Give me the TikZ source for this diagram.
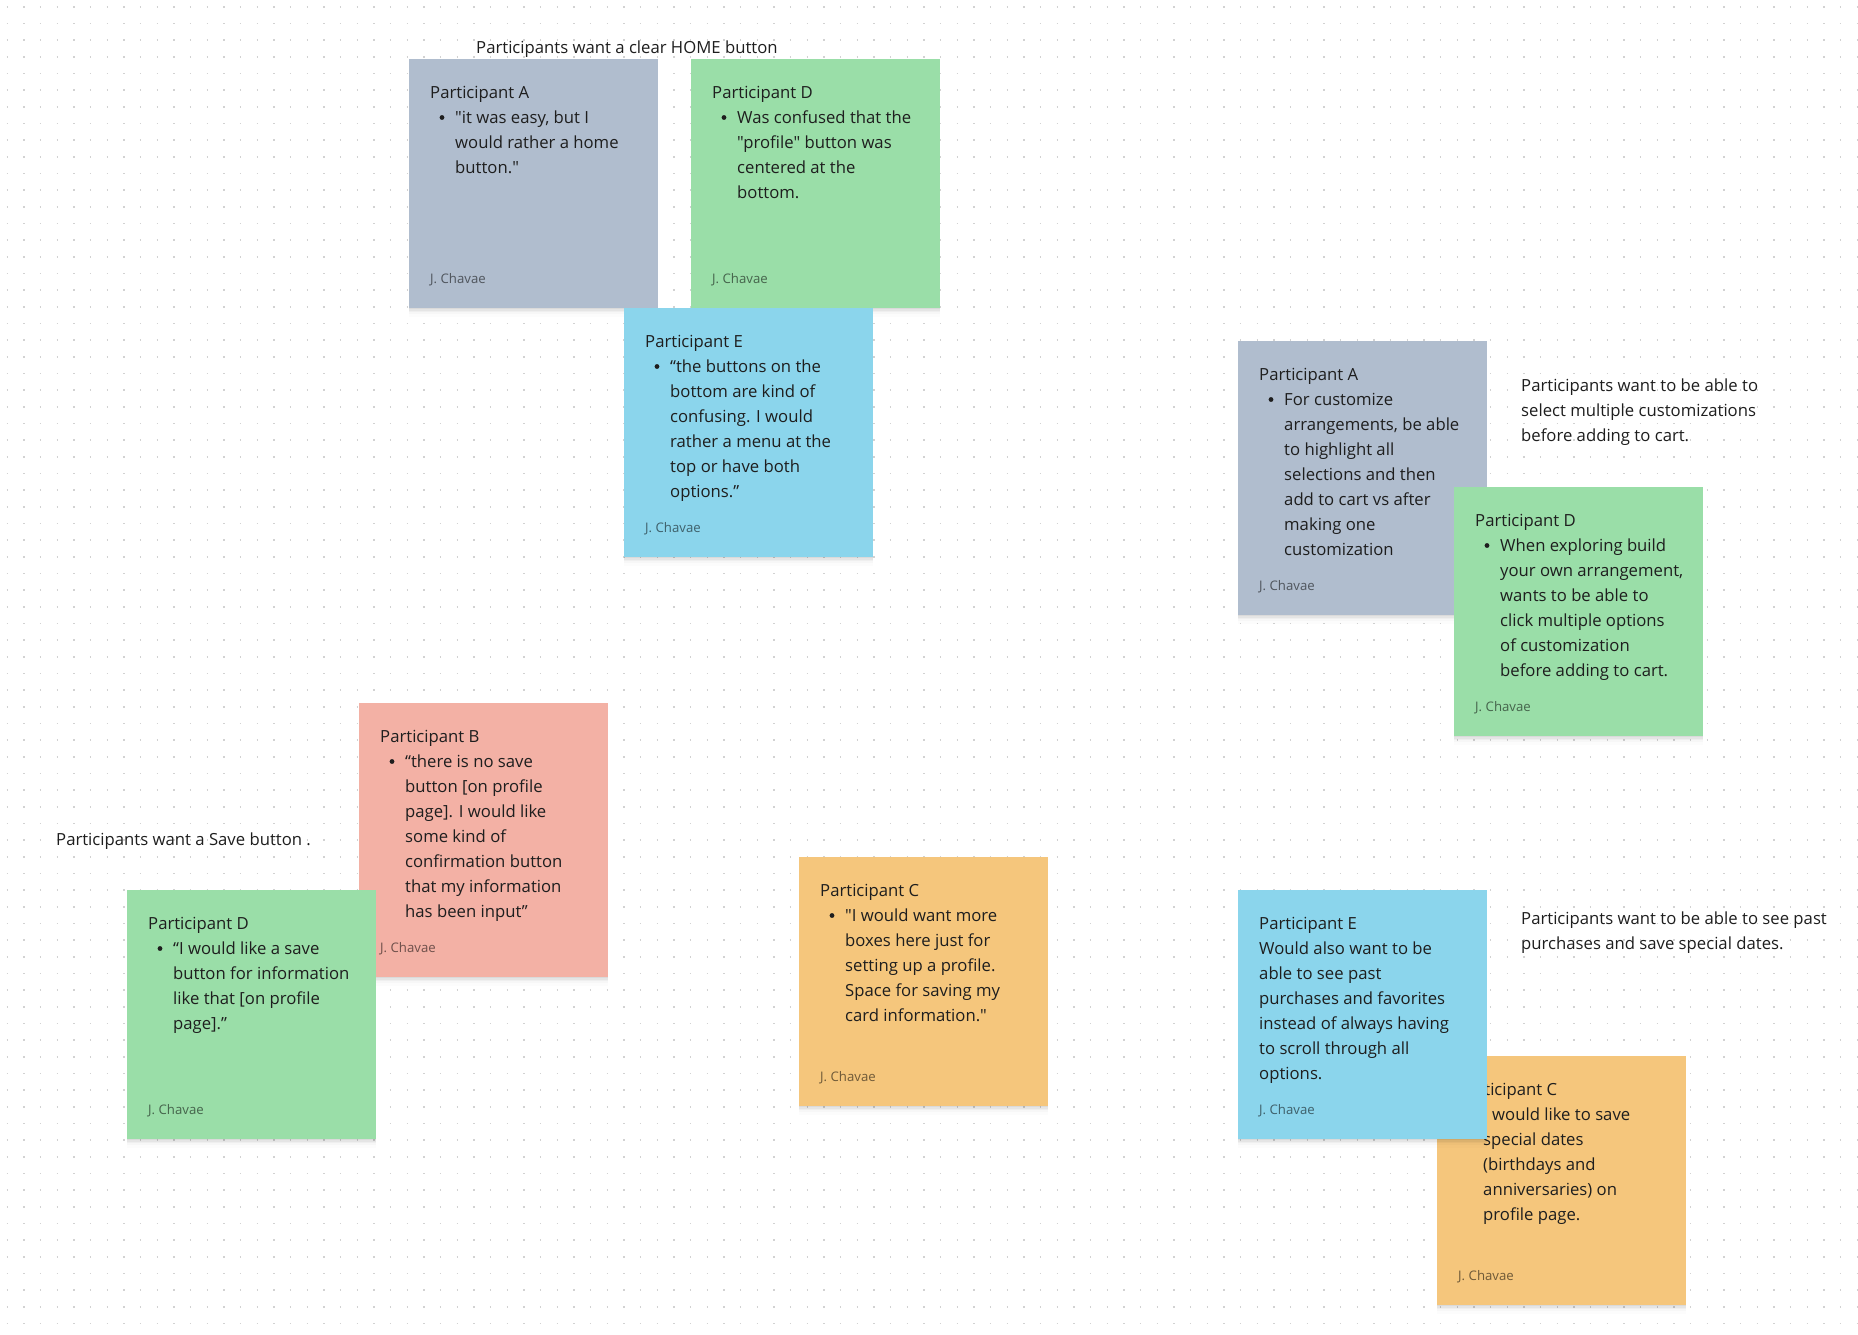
\documentclass[tikz,border=0pt]{standalone}
\usepackage{fontspec}
\setmainfont{Open Sans}[Ligatures=TeXOff]
\usetikzlibrary{shadows}
\definecolor{cgray}{HTML}{B0BDCE}
\definecolor{cgreen}{HTML}{9ADEA8}
\definecolor{cblue}{HTML}{8BD5EC}
\definecolor{csalmon}{HTML}{F3B1A5}
\definecolor{corange}{HTML}{F5C67C}
\definecolor{dotgray}{HTML}{D2D2D2}
\definecolor{ink}{HTML}{1E1E1E}
\newcommand\bodyfnt{\fontsize{16.7}{25}\selectfont}
\newcommand\authfnt{\fontsize{13.2}{15}\selectfont}
\tikzset{
  x=1pt,y=1pt,
  note/.style={rectangle, anchor=north west, inner sep=0pt, minimum width=249pt, draw=none,
    general shadow={shadow yshift=-1pt, fill=black, opacity=0.045},
    general shadow={shadow yshift=-2.5pt, fill=black, opacity=0.04},
    general shadow={shadow yshift=-4pt, fill=black, opacity=0.03},
    general shadow={shadow yshift=-6pt, fill=black, opacity=0.02},
    general shadow={shadow yshift=-8.5pt, fill=black, opacity=0.012}},
  ntitle/.style={anchor=base west, inner sep=0pt, font=\bodyfnt, text=ink},
  nbody/.style={anchor=north west, inner sep=0pt, font=\bodyfnt, text=ink, align=left},
  nauth/.style={anchor=base west, inner sep=0pt, font=\authfnt, text=black, text opacity=0.55},
  label/.style={anchor=base west, inner sep=0pt, font=\bodyfnt, text=ink, align=left},
  bul/.style={fill=ink},
  dotrow/.style={line width=1.6pt, draw=dotgray, dash pattern=on 1.6pt off 15.067pt}
}
\begin{document}
\begin{tikzpicture}
\useasboundingbox (0,0) rectangle (1858,-1334);
\fill[white] (0,0) rectangle (1858,-1334);
\foreach \k in {0,...,79} {
  \draw[dotrow] (6.5,{-(6.7+16.667*\k)}) -- (1858,{-(6.7+16.667*\k)});
}

% ---- top cluster ----
\node[label] (t1) at (476,-53) {Participants want a clear HOME button};

\node[note, fill=cgray, minimum height=249pt] (nA) at (409,-59) {};
\node[ntitle] (nAt) at (430,-98) {Participant A};
\fill[bul] (442,-117.5) circle (2.4);
\node[nbody] (nAb) at (455,-105.5) {\strut"it was easy, but I\\would rather a home\\button."};
\node[nauth] (nAa) at (430,-283) {J. Chavae};

\node[note, fill=cgreen, minimum height=249pt] (nD) at (691,-59) {};
\node[ntitle] (nDt) at (712,-98) {Participant D};
\fill[bul] (724,-117.5) circle (2.4);
\node[nbody] (nDb) at (737,-105.5) {\strut Was confused that the\\"profile" button was\\centered at the\\bottom.};
\node[nauth] (nDa) at (712,-283) {J. Chavae};

\node[note, fill=cblue, minimum height=249pt] (nE) at (624,-308) {};
\node[ntitle] (nEt) at (645,-347) {Participant E};
\fill[bul] (657,-366.5) circle (2.4);
\node[nbody] (nEb) at (670,-354.5) {\strut “the buttons on the\\bottom are kind of\\confusing. I would\\rather a menu at the\\top or have both\\options.”};
\node[nauth] (nEa) at (645,-532) {J. Chavae};

% ---- right upper cluster ----
\node[note, fill=cgray, minimum height=274pt] (nA2) at (1238,-341) {};
\node[ntitle] (nA2t) at (1259,-380) {Participant A};
\fill[bul] (1271,-399.5) circle (2.4);
\node[nbody] (nA2b) at (1284,-387.5) {\strut For customize\\arrangements, be able\\to highlight all\\selections and then\\add to cart vs after\\making one\\customization};
\node[nauth] (nA2a) at (1259,-590) {J. Chavae};

\node[label] (t2) at (1521,-441) {Participants want to be able to\\select multiple customizations\\before adding to cart.};

\node[note, fill=cgreen, minimum height=249pt] (nD2) at (1454,-487) {};
\node[ntitle] (nD2t) at (1475,-526) {Participant D};
\fill[bul] (1487,-545.5) circle (2.4);
\node[nbody] (nD2b) at (1500,-533.5) {\strut When exploring build\\your own arrangement,\\wants to be able to\\click multiple options\\of customization\\before adding to cart.};
\node[nauth] (nD2a) at (1475,-711) {J. Chavae};

% ---- left lower cluster ----
\node[label] (t3) at (56,-845) {Participants want a Save button .};

\node[note, fill=csalmon, minimum height=274pt] (nB) at (359,-703) {};
\node[ntitle] (nBt) at (380,-742) {Participant B};
\fill[bul] (392,-761.5) circle (2.4);
\node[nbody] (nBb) at (405,-749.5) {\strut “there is no save\\button [on profile\\page]. I would like\\some kind of\\confirmation button\\that my information\\has been input”};
\node[nauth] (nBa) at (380,-952) {J. Chavae};

\node[note, fill=cgreen, minimum height=249pt] (nD3) at (127,-890) {};
\node[ntitle] (nD3t) at (148,-929) {Participant D};
\fill[bul] (160,-948.5) circle (2.4);
\node[nbody] (nD3b) at (173,-936.5) {\strut “I would like a save\\button for information\\like that [on profile\\page].”};
\node[nauth] (nD3a) at (148,-1114) {J. Chavae};

% ---- middle lower ----
\node[note, fill=corange, minimum height=249pt] (nC) at (799,-857) {};
\node[ntitle] (nCt) at (820,-896) {Participant C};
\fill[bul] (832,-915.5) circle (2.4);
\node[nbody] (nCb) at (845,-903.5) {\strut"I would want more\\boxes here just for\\setting up a profile.\\Space for saving my\\card information."};
\node[nauth] (nCa) at (820,-1081) {J. Chavae};

% ---- right lower cluster ----
\node[label] (t4) at (1521,-949) {Participants want to be able to see past\\purchases and save special dates.};

\node[note, fill=corange, minimum height=249pt] (nC2) at (1437,-1056) {};
\node[ntitle] (nC2t) at (1458,-1095) {Participant C};
\fill[bul] (1470,-1114.5) circle (2.4);
\node[nbody] (nC2b) at (1483,-1102.5) {\strut I would like to save\\special dates\\(birthdays and\\anniversaries) on\\profile page.};
\node[nauth] (nC2a) at (1458,-1280) {J. Chavae};

\node[note, fill=cblue, minimum height=249pt] (nE2) at (1238,-890) {};
\node[ntitle] (nE2t) at (1259,-929) {Participant E};
\node[nbody] (nE2b) at (1259,-936.5) {\strut Would also want to be\\able to see past\\purchases and favorites\\instead of always having\\to scroll through all\\options.};
\node[nauth] (nE2a) at (1259,-1114) {J. Chavae};
\end{tikzpicture}
\end{document}
